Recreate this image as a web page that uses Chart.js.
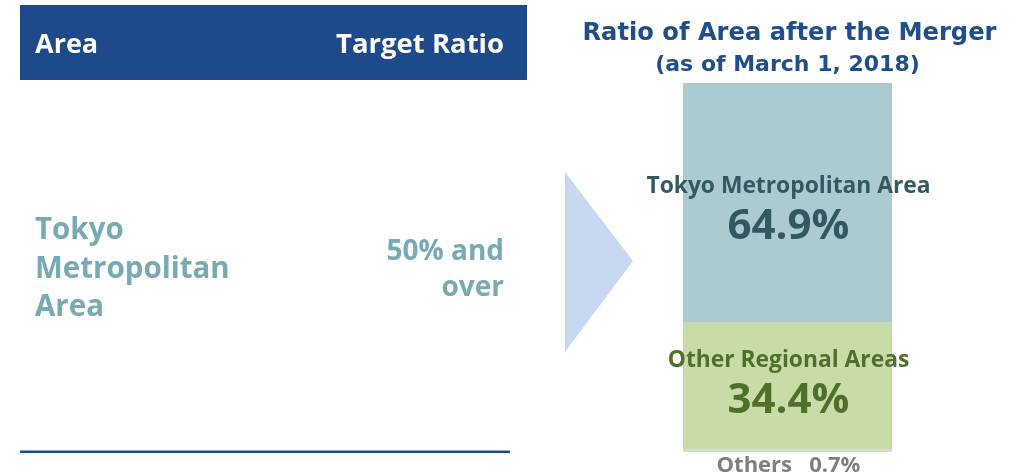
<!DOCTYPE html>
<html>
<head>
<meta charset="utf-8">
<script src="https://cdn.jsdelivr.net/npm/chart.js@4.4.1/dist/chart.umd.min.js"></script>
<style>
  html, body { margin: 0; padding: 0; background: #ffffff; }
  #wrap { position: relative; width: 1023px; height: 476px; }
  canvas { display: block; }
</style>
</head>
<body>
<div id="wrap"><canvas id="c" width="1023" height="476"></canvas></div>
<script>
// ---- data ----
const categories = ["Ratio"];
const segmentNames = ["Others", "Other Regional Areas", "Tokyo Metropolitan Area"];
const segmentValues = [0.7, 34.4, 64.9];
const titleLines = ["Ratio of Area after the Merger", "(as of March 1, 2018)"];
const tableHeaders = ["Area", "Target Ratio"];
const tableAreaLines = ["Tokyo", "Metropolitan", "Area"];
const tableTargetLines = ["50% and", "over"];

// ---- styles ----
const segmentColors = ["#d9d9d9", "#c8dca8", "#abcbd1"];
const labelColors = ["#7f7f7f", "#4f6f2a", "#31595f"];
const SANS = '"Open Sans", "Noto Sans", sans-serif';
const WIDE = '"DejaVu Sans", Verdana, sans-serif';

const decorPlugin = {
  id: 'decor',
  beforeDraw(chart) {
    const ctx = chart.ctx;
    ctx.save();
    // table header bar
    ctx.fillStyle = '#1c4a8a';
    ctx.fillRect(20, 5, 507, 75);
    ctx.fillStyle = '#ffffff';
    ctx.textBaseline = 'alphabetic';
    ctx.textAlign = 'left';
    ctx.font = 'bold 27px ' + SANS;
    ctx.fillText(tableHeaders[0], 35, 53);
    ctx.textAlign = 'right';
    ctx.font = 'bold 27.5px ' + SANS;
    ctx.fillText(tableHeaders[1], 504, 53);
    // table row
    ctx.fillStyle = '#78aab5';
    ctx.font = 'bold 29.5px ' + SANS;
    ctx.textAlign = 'left';
    const areaBase = [239, 278, 316];
    tableAreaLines.forEach((t, i) => ctx.fillText(t, 35, areaBase[i]));
    ctx.textAlign = 'right';
    ctx.font = 'bold 28px ' + SANS;
    const tgtBase = [260, 296];
    tableTargetLines.forEach((t, i) => ctx.fillText(t, 504, tgtBase[i]));
    // bottom rule
    ctx.fillStyle = '#8eaadb';
    ctx.fillRect(20, 450, 490, 1);
    ctx.fillStyle = '#1c4a8a';
    ctx.fillRect(20, 451, 490, 2);
    // arrow
    ctx.fillStyle = '#c6d9f1';
    ctx.beginPath();
    ctx.moveTo(565, 172);
    ctx.lineTo(633, 261);
    ctx.lineTo(565, 352);
    ctx.closePath();
    ctx.fill();
    // title
    ctx.fillStyle = '#1f4e8c';
    ctx.textAlign = 'center';
    ctx.font = 'bold 24.2px ' + WIDE;
    ctx.fillText(titleLines[0], 789.5, 40);
    ctx.font = 'bold 22px ' + WIDE;
    ctx.fillText(titleLines[1], 787.5, 71);
    ctx.restore();
  },
  afterDatasetsDraw(chart) {
    const ctx = chart.ctx;
    ctx.save();
    ctx.textAlign = 'center';
    ctx.textBaseline = 'alphabetic';
    // per-segment label offsets relative to the segment centre: [name baseline, value baseline]
    const offsets = [null, [-19, 27], [-10, 36]];
    chart.data.datasets.forEach((ds, i) => {
      const el = chart.getDatasetMeta(i).data[0];
      const cx = el.x;
      const cy = (el.y + el.base) / 2;
      const val = ds.data[0].toFixed(1) + '%';
      ctx.fillStyle = labelColors[i];
      if (offsets[i]) {
        ctx.font = 'bold 22.8px ' + SANS;
        ctx.fillText(ds.label, cx + 1, cy + offsets[i][0]);
        ctx.font = 'bold 42px ' + SANS;
        ctx.fillText(val, cx + 1, cy + offsets[i][1]);
      } else {
        ctx.font = 'bold 22px ' + SANS;
        ctx.fillText(ds.label + '   ' + val, cx + 1, el.base + 20);
      }
    });
    ctx.restore();
  }
};

new Chart(document.getElementById('c'), {
  type: 'bar',
  data: {
    labels: categories,
    datasets: segmentNames.map((name, i) => ({
      label: name,
      data: [segmentValues[i]],
      backgroundColor: segmentColors[i],
      borderWidth: 0,
      barPercentage: 1,
      categoryPercentage: 1
    }))
  },
  options: {
    responsive: false,
    animation: false,
    devicePixelRatio: 1,
    layout: { padding: { left: 683, right: 131, top: 83, bottom: 24 } },
    plugins: { legend: { display: false }, title: { display: false }, tooltip: { enabled: false } },
    scales: {
      x: { stacked: true, display: false },
      y: { stacked: true, display: false, min: 0, max: 100 }
    }
  },
  plugins: [decorPlugin]
});
</script>
</body>
</html>
